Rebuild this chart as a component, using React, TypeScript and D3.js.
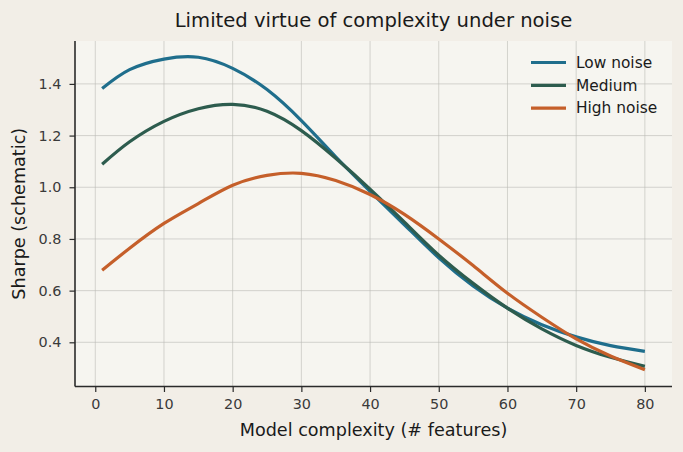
import * as d3 from "d3";
import { useEffect, useRef } from "react";

const complexity = [1, 5, 10, 15, 20, 25, 30, 35, 40, 45, 50, 55, 60, 65, 70, 75, 80];
const lowNoise = [1.382, 1.455, 1.496, 1.503, 1.46, 1.378, 1.258, 1.118, 0.984, 0.855, 0.727, 0.618, 0.532, 0.468, 0.421, 0.387, 0.365];
const mediumNoise = [1.089, 1.176, 1.255, 1.304, 1.321, 1.294, 1.219, 1.112, 0.993, 0.865, 0.737, 0.628, 0.532, 0.452, 0.388, 0.342, 0.307];
const highNoise = [0.679, 0.764, 0.86, 0.937, 1.008, 1.046, 1.054, 1.026, 0.972, 0.895, 0.8, 0.697, 0.59, 0.497, 0.413, 0.347, 0.294];
const seriesNames = ["Low noise", "Medium", "High noise"];
const seriesColors = ["#1f6e8c", "#2d5c4e", "#c55f2a"];
const xTicks = [0, 10, 20, 30, 40, 50, 60, 70, 80];
const yTicks = [0.4, 0.6, 0.8, 1.0, 1.2, 1.4];

export default function App() {
  const width = 683;
  const height = 452;
  const marginTop = 41;
  const marginRight = 11;
  const marginBottom = 65.5;
  const marginLeft = 75;

  const svgRef = useRef<SVGSVGElement>(null);

  useEffect(() => {
    const svgEl = d3.select(svgRef.current);
    svgEl.selectAll("*").remove();

    const allSeries = [lowNoise, mediumNoise, highNoise];

    const xScale = d3.scaleLinear([-2.95, 83.95], [marginLeft, width - marginRight]);
    const yScale = d3.scaleLinear([0.229, 1.566], [height - marginBottom, marginTop]);

    // backgrounds
    svgEl.append("rect")
      .attr("width", width)
      .attr("height", height)
      .attr("fill", "#f2eee7");

    svgEl.append("rect")
      .attr("x", marginLeft)
      .attr("y", marginTop)
      .attr("width", width - marginLeft - marginRight)
      .attr("height", height - marginTop - marginBottom)
      .attr("fill", "#f6f5f0");

    // grid
    svgEl.append("g")
      .selectAll("line")
      .data(xTicks)
      .join("line")
      .attr("x1", d => xScale(d))
      .attr("x2", d => xScale(d))
      .attr("y1", marginTop)
      .attr("y2", height - marginBottom)
      .attr("stroke", "#b8b8b4")
      .attr("stroke-opacity", 0.65)
      .attr("stroke-width", 0.9);

    svgEl.append("g")
      .selectAll("line")
      .data(yTicks)
      .join("line")
      .attr("x1", marginLeft)
      .attr("x2", width - marginRight)
      .attr("y1", d => yScale(d))
      .attr("y2", d => yScale(d))
      .attr("stroke", "#b8b8b4")
      .attr("stroke-opacity", 0.65)
      .attr("stroke-width", 0.9);

    // lines
    const line = d3.line<number>((d, i) => xScale(complexity[i]), d => yScale(d))
      .curve(d3.curveNatural);

    allSeries.forEach((s, i) => {
      svgEl.append("path")
        .attr("d", line(s))
        .attr("fill", "none")
        .attr("stroke", seriesColors[i])
        .attr("stroke-width", 3.2)
        .attr("stroke-linecap", "butt");
    });

    // axes
    const xAxis = d3.axisBottom(xScale).tickValues(xTicks).tickSize(5.5).tickPadding(7).tickFormat(d3.format("d"));
    const yAxis = d3.axisLeft(yScale).tickValues(yTicks).tickSize(5.5).tickPadding(8).tickFormat(d3.format(".1f"));

    const gx = svgEl.append("g")
      .attr("transform", `translate(0, ${height - marginBottom})`)
      .call(xAxis);
    const gy = svgEl.append("g")
      .attr("transform", `translate(${marginLeft}, 0)`)
      .call(yAxis);

    [gx, gy].forEach(g => {
      g.select(".domain").attr("stroke", "#2b2b2b").attr("stroke-width", 1.6);
      g.selectAll(".tick line").attr("stroke", "#2b2b2b").attr("stroke-width", 1.2);
      g.selectAll(".tick text")
        .attr("fill", "#3a3a3a")
        .attr("font-size", 14.4)
        .attr("font-family", "DejaVu Sans");
    });
    gx.select(".domain").attr("d", `M${marginLeft},0H${width - marginRight}`);
    gy.select(".domain").attr("d", `M0,${marginTop}V${height - marginBottom}`);

    // labels
    svgEl.append("text")
      .attr("x", (marginLeft + width - marginRight) / 2)
      .attr("y", 436)
      .attr("text-anchor", "middle")
      .attr("font-family", "DejaVu Sans")
      .attr("font-size", 17.6)
      .attr("fill", "#1a1a1a")
      .text("Model complexity (# features)");

    svgEl.append("text")
      .attr("transform", `translate(25, ${(marginTop + height - marginBottom) / 2}) rotate(-90)`)
      .attr("text-anchor", "middle")
      .attr("font-family", "DejaVu Sans")
      .attr("font-size", 17.6)
      .attr("fill", "#1a1a1a")
      .text("Sharpe (schematic)");

    svgEl.append("text")
      .attr("x", (marginLeft + width - marginRight) / 2)
      .attr("y", 27)
      .attr("text-anchor", "middle")
      .attr("font-family", "DejaVu Sans")
      .attr("font-size", 19.6)
      .attr("fill", "#1a1a1a")
      .text("Limited virtue of complexity under noise");

    // legend
    const legend = svgEl.append("g");
    seriesNames.forEach((name, i) => {
      const y = 62.5 + i * 22.8;
      legend.append("line")
        .attr("x1", 531)
        .attr("x2", 566)
        .attr("y1", y)
        .attr("y2", y)
        .attr("stroke", seriesColors[i])
        .attr("stroke-width", 3.2);
      legend.append("text")
        .attr("x", 576)
        .attr("y", y)
        .attr("dy", "0.35em")
        .attr("font-family", "DejaVu Sans")
        .attr("font-size", 15.4)
        .attr("fill", "#1a1a1a")
        .text(name);
    });
  }, []);

  return (
    <svg
      ref={svgRef}
      width={width}
      height={height}
      style={{ position: "absolute", left: 0, top: 0 }}
      xmlns="http://www.w3.org/2000/svg"
    >
    </svg>
  );
}
